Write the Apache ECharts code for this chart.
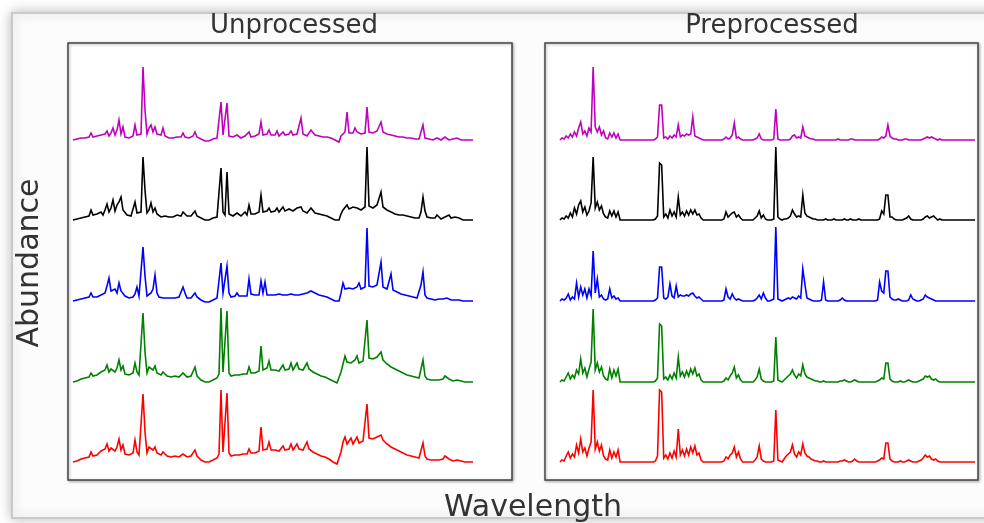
<!DOCTYPE html>
<html>
<head>
<meta charset="utf-8">
<script src="https://cdn.jsdelivr.net/npm/echarts@6/dist/echarts.min.js"></script>
<style>
html,body{margin:0;padding:0;background:#ffffff;}
#chart{width:984px;height:523px;}
</style>
</head>
<body>
<div id="chart"></div>
<script>
// Panel titles and axis labels
const panelTitles = ["Unprocessed", "Preprocessed"];
const xLabel = "Wavelength";
const yLabel = "Abundance";

// Stack order (bottom to top) and vertical offsets between traces
const traceNames = ["red", "green", "blue", "black", "magenta"];
const traceColors = ["#ff0000", "#008000", "#0000ff", "#000000", "#bf00bf"];
const offsets = [0, 80, 161, 242, 322];

// Unprocessed spectra (201 samples each, intensity above own offset)
const rawMagenta = [
0,0,1,1,2,2,2,3,3,7, 3,1,4,2,5,3,6,9,4,7, 12,5,10,20,6,13,3,4,2,3, 4,15,5,4,6,73,30,6,12,15,
8,13,6,4,5,12,4,3,2,3, 2,2,3,2,3,7,3,2,2,3, 4,8,3,2,1,0,-1,-2,-1,0, 1,1,2,3,38,5,3,37,4,2,
3,3,5,3,2,3,4,3,8,3, 3,4,5,6,18,5,4,6,10,5, 4,5,9,4,6,8,5,4,6,9, 5,4,6,5,22,6,5,4,5,10,
8,5,4,4,3,3,3,3,2,2, 1,0,-1,-2,4,6,8,28,7,6, 7,12,8,10,6,7,7,33,8,8, 7,8,9,10,18,8,7,6,5,5,
5,4,4,3,3,3,2,2,2,2, 1,1,1,1,1,15,2,1,1,1, 0,1,2,1,0,1,3,2,0,0, 1,3,2,1,0,0,0,0,0,0, 0];
const rawBlack = [
0,0,1,1,2,3,3,4,4,10, 5,3,6,4,8,5,10,16,8,12, 20,9,15,18,23,10,8,5,5,4, 6,18,7,5,8,63,30,7,10,17,
8,12,6,4,3,4,4,3,3,4, 3,4,5,3,4,8,10,4,3,4, 5,9,4,3,2,1,0,-1,0,1, 2,2,3,4,52,8,5,48,6,4,
4,5,7,5,4,6,8,5,15,6, 5,6,7,8,25,8,6,9,12,8, 7,9,12,8,10,13,9,8,11,13, 9,8,12,10,13,9,8,7,9,12,
10,7,6,6,5,5,5,4,3,2, 1,0,-1,0,6,10,12,15,11,12, 13,15,12,14,10,12,13,73,14,12, 12,13,15,16,28,13,12,10,8,8,
7,6,6,5,5,5,4,4,3,3, 3,2,2,2,8,23,9,3,2,2, 1,2,5,3,1,1,3,4,5,2, 1,3,4,2,1,0,0,0,0,0, 0];
const rawBlue = [
0,0,1,1,2,2,3,3,4,8, 4,3,4,5,6,6,8,15,23,10, 9,12,8,18,10,12,5,4,3,3, 4,7,14,5,6,54,25,5,6,8,
12,26,8,4,3,3,3,3,3,3, 3,3,3,4,5,14,8,3,3,3, 4,8,4,2,1,0,-1,-2,-1,0, 1,2,3,5,38,8,6,35,8,4,
4,5,8,5,4,5,6,5,22,7, 5,6,6,6,20,8,19,6,6,6, 6,6,6,7,6,6,7,6,6,7, 6,6,7,6,7,7,8,8,9,10,
11,8,7,6,5,5,5,4,3,2, 1,0,-1,0,8,18,12,12,13,11, 12,13,14,18,12,13,14,73,15,14, 14,15,16,18,39,14,13,12,11,27,
11,10,9,8,7,7,6,5,5,4, 4,3,3,4,16,29,6,3,2,2, 1,1,3,2,1,2,4,3,2,1, 1,1,2,1,0,0,0,0,0,0, 0];
const rawGreen = [
0,0,1,2,3,3,4,5,5,9, 6,5,7,8,10,9,12,17,10,13, 15,10,14,22,12,16,8,7,7,8, 9,19,10,7,9,69,30,9,15,16,
12,16,9,8,7,10,8,6,5,5, 5,6,6,5,6,9,7,5,5,6, 7,15,6,4,2,1,0,-1,0,1, 2,3,4,8,74,10,8,71,9,6,
6,7,9,7,6,8,10,8,15,9, 8,9,10,11,36,12,10,14,21,12, 10,12,14,11,12,17,12,11,13,19, 12,14,19,13,15,12,13,19,13,11,
10,9,8,7,6,6,5,4,3,2, 1,0,-1,0,10,18,26,20,18,19, 20,22,26,19,20,21,22,62,24,22, 23,24,25,26,30,22,20,18,16,15,
14,13,12,11,10,9,8,7,6,6, 5,5,4,4,5,22,6,3,2,2, 1,2,3,2,1,3,6,7,3,2, 1,2,2,1,1,0,0,0,0,0, 0];
const rawRed = [
0,0,1,2,3,3,4,5,5,10, 6,5,7,9,11,9,13,18,11,14, 16,11,15,23,12,17,8,7,7,8, 9,22,10,7,9,68,30,9,15,14,
12,15,9,8,7,10,8,6,5,5, 5,6,6,5,6,8,7,5,5,6, 7,12,6,4,2,1,0,-1,0,1, 2,3,4,8,72,10,8,69,9,6,
6,7,9,7,6,8,10,8,13,9, 8,9,10,11,35,12,10,13,20,12, 10,12,13,11,12,16,12,11,13,18, 12,13,18,13,14,12,13,20,13,11,
10,9,8,7,6,6,5,4,3,2, 0,-1,-2,0,10,20,25,18,16,24, 18,20,25,19,20,21,22,58,24,22, 23,24,25,26,27,22,20,18,16,15,
14,13,12,11,10,9,8,7,6,6, 5,5,4,4,5,19,6,3,2,2, 1,2,3,2,1,3,6,7,3,2, 1,2,2,1,1,0,0,0,0,0, 0];

// Preprocessed spectra (201 samples each)
const preMagenta = [
0,2,1,4,2,6,3,8,4,12, 18,6,9,4,12,8,73,13,8,13, 5,9,2,1,7,3,7,2,6,0, 0,0,0,0,0,0,0,0,0,0,
0,0,0,0,0,0,1,3,35,35, 2,3,1,4,2,5,3,15,3,5, 4,6,5,6,23,4,3,2,1,0, 0,0,0,0,0,0,0,0,0,1,
3,1,2,5,17,2,3,1,0,0, 0,0,0,0,1,2,6,1,0,0, 0,0,0,1,31,1,0,0,0,0, 0,1,4,5,2,3,2,13,4,3,
2,1,1,0,0,0,0,0,0,0, 0,0,0,0,1,0,0,0,0,0, 1,1,0,0,0,0,0,0,0,0, 0,0,0,0,1,3,2,4,15,4,
2,1,1,0,0,0,1,1,0,0, 0,0,0,0,0,1,2,3,2,3, 2,1,0,1,0,0,0,0,0,0, 0,0,0,0,0,0,0,0,0,0, 0];
const preBlack = [
0,2,1,4,2,7,3,12,6,15, 19,8,13,5,9,17,63,12,18,10, 14,6,3,2,9,4,9,3,8,0, 0,0,0,0,0,0,0,0,0,0,
0,0,0,0,0,0,1,4,57,55, 3,6,2,10,4,8,3,23,5,8, 4,9,5,10,6,10,5,6,2,0, 0,0,0,0,0,0,0,0,0,1,
8,3,5,7,8,3,5,2,0,0, 0,0,0,0,2,4,9,2,5,1, 0,0,0,1,73,3,1,0,1,1, 2,4,10,6,3,4,3,25,7,4,
3,2,1,1,0,0,0,0,1,0, 0,0,1,0,0,0,0,1,0,0, 1,0,0,0,1,0,0,0,0,0, 0,0,0,0,1,9,6,25,25,3,
3,1,0,0,0,0,1,2,4,1, 0,0,0,0,0,1,3,4,2,3, 4,2,0,1,0,0,0,0,0,0, 0,0,0,0,0,0,0,0,0,0, 0];
const preBlue = [
0,2,1,3,7,1,4,2,18,4, 14,6,12,3,12,5,50,8,22,4, 6,2,1,2,12,3,5,2,3,0, 0,0,0,0,0,0,0,0,0,0,
0,0,0,0,0,0,1,3,34,34, 3,2,4,17,5,3,15,4,6,5, 5,6,5,7,8,5,3,4,2,0, 0,0,0,0,0,0,0,0,0,1,
12,4,2,7,3,1,2,1,0,0, 0,0,0,0,1,3,6,2,8,3, 0,0,1,2,74,2,1,0,1,2, 3,2,4,3,2,5,3,32,17,3,
2,1,0,0,0,0,1,19,1,0, 0,0,0,0,0,1,3,1,0,0, 0,0,0,0,0,0,0,0,0,0, 0,0,0,1,19,10,8,30,30,4,
2,1,1,2,1,0,0,0,1,6, 2,1,0,0,1,2,6,4,3,2, 1,0,0,0,0,0,0,0,0,0, 0,0,0,0,0,0,0,0,0,0, 0];
const preGreen = [
0,2,1,5,9,3,7,4,12,8, 23,9,14,5,13,20,73,12,19,10, 15,6,3,2,13,4,12,6,13,0, 0,0,0,0,0,0,0,0,0,0,
0,0,0,0,0,0,1,4,58,56, 3,5,2,7,3,9,4,25,6,10, 5,11,6,13,8,14,6,8,2,0, 0,0,0,0,0,0,0,0,0,1,
4,2,6,9,15,4,7,2,0,0, 0,0,0,0,2,5,13,3,1,0, 0,0,0,1,45,2,1,0,2,4, 6,8,12,7,4,8,6,17,8,5,
4,3,2,1,1,0,0,1,0,0, 0,0,0,0,0,1,1,2,1,0, 0,1,2,1,0,0,0,0,0,0, 0,0,0,1,2,4,3,19,19,3,
1,0,0,0,1,0,0,1,2,1, 0,0,0,1,2,3,6,5,6,3, 2,3,1,0,0,0,0,0,0,0, 0,0,0,0,0,0,0,0,0,0, 0];
const preRed = [
0,2,1,6,10,4,8,5,17,9, 23,10,14,6,14,20,72,13,20,11, 17,6,3,2,12,4,10,5,12,0, 0,0,0,0,0,0,0,0,0,0,
0,0,0,0,0,0,1,6,72,70, 4,7,3,9,4,11,5,33,7,12, 6,13,7,15,9,16,7,9,2,0, 0,0,0,0,0,0,0,0,0,1,
5,3,7,9,15,5,10,3,0,0, 0,0,0,0,2,5,16,3,1,0, 0,0,0,1,52,2,1,0,3,6, 8,10,17,8,5,10,7,18,9,6,
5,3,2,1,1,0,0,1,0,0, 0,0,0,0,0,1,1,2,1,0, 0,1,3,1,0,0,0,0,0,0, 0,0,0,1,2,4,3,19,19,3,
1,0,0,0,1,0,0,1,2,1, 0,0,0,1,2,4,7,5,6,3, 2,3,1,0,0,0,0,0,0,0, 0,0,0,0,0,0,0,0,0,0, 0];

const rawSet = [rawRed, rawGreen, rawBlue, rawBlack, rawMagenta];
const preSet = [preRed, preGreen, preBlue, preBlack, preMagenta];

function buildSeries(set, axisIndex) {
  return set.map((vals, k) => ({
    type: 'line',
    name: traceNames[k],
    xAxisIndex: axisIndex,
    yAxisIndex: axisIndex,
    showSymbol: false,
    symbol: 'none',
    silent: true,
    animation: false,
    lineStyle: { color: traceColors[k], width: 1.6, opacity: 1, join: 'miter' },
    data: vals.map((v, i) => [i, v + offsets[k]])
  }));
}

const chart = echarts.init(document.getElementById('chart'), null, { renderer: 'canvas' });
const font = "'DejaVu Sans', sans-serif";
chart.setOption({
  backgroundColor: '#ffffff',
  animation: false,
  graphic: [
    { type: 'rect', z: -10, silent: true,
      shape: { x: 12, y: 13, width: 990, height: 505 },
      style: { fill: '#fcfcfc', stroke: '#c9c9c9', lineWidth: 2,
               shadowBlur: 12, shadowColor: 'rgba(0,0,0,0.25)' } },
    { type: 'text', silent: true, x: 30, y: 263, rotation: Math.PI / 2,
      style: { text: yLabel, font: "30px 'DejaVu Sans', sans-serif", fill: '#333',
               align: 'center', verticalAlign: 'middle' } }
  ],
  title: [
    { text: panelTitles[0], left: 289, top: 8, textAlign: 'center',
      textStyle: { fontFamily: font, fontSize: 26, fontWeight: 'normal', color: '#333' } },
    { text: panelTitles[1], left: 767, top: 8, textAlign: 'center',
      textStyle: { fontFamily: font, fontSize: 26, fontWeight: 'normal', color: '#333' } },
    { text: xLabel, left: 528, top: 488, textAlign: 'center',
      textStyle: { fontFamily: font, fontSize: 30, fontWeight: 'normal', color: '#333' } }
  ],
  grid: [
    { left: 68, top: 43, width: 444, height: 437, show: true, borderColor: '#444', borderWidth: 1.5,
      backgroundColor: '#ffffff', shadowBlur: 3, shadowColor: 'rgba(0,0,0,0.3)', shadowOffsetX: 1, shadowOffsetY: 1 },
    { left: 545, top: 43, width: 433, height: 437, show: true, borderColor: '#444', borderWidth: 1.5,
      backgroundColor: '#ffffff', shadowBlur: 3, shadowColor: 'rgba(0,0,0,0.3)', shadowOffsetX: 1, shadowOffsetY: 1 }
  ],
  xAxis: [
    { type: 'value', gridIndex: 0, min: -2.5, max: 219.5, show: false },
    { type: 'value', gridIndex: 1, min: -7.2, max: 201.4, show: false }
  ],
  yAxis: [
    { type: 'value', gridIndex: 0, min: -18, max: 419, show: false },
    { type: 'value', gridIndex: 1, min: -18, max: 419, show: false }
  ],
  series: buildSeries(rawSet, 0).concat(buildSeries(preSet, 1))
});
</script>
</body>
</html>
